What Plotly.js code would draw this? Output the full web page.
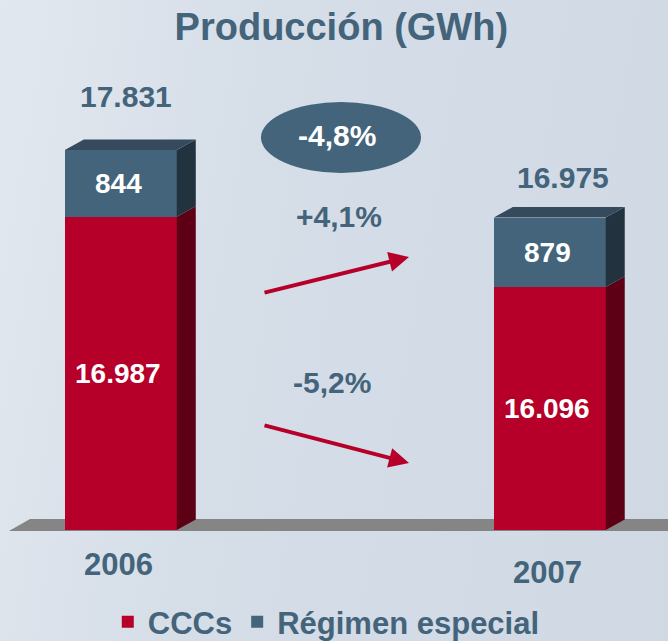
<!DOCTYPE html>
<html>
<head>
<meta charset="utf-8">
<script src="https://cdn.plot.ly/plotly-3.0.1.min.js"></script>
<style>
html,body{margin:0;padding:0;}
body{width:668px;height:641px;overflow:hidden;
background:linear-gradient(100deg,#e2e8ef 0%,#d6dee8 35%,#d2dbe6 70%,#cfd8e3 100%);}
#chart{width:668px;height:641px;}
</style>
</head>
<body>
<div id="chart"></div>
<script>
// ---- data ----
const categories = ['2006', '2007'];
const ccc = [16987, 16096];            // CCCs
const regimen = [844, 879];            // Régimen especial
const totals = [17831, 16975];
const seriesNames = ['CCCs', 'Régimen especial'];
const changeTotal = '-4,8%';
const changeRegimen = '+4,1%';
const changeCCC = '-5,2%';

// ---- style ----
const RED = '#b60029', RED_SIDE = '#5d0016';
const BLUE = '#43647a', BLUE_SIDE = '#22323f', BLUE_TOP = '#354b5d';
const SLATE = '#43647a';
const FONT = 'Liberation Sans, Arial, sans-serif';
const BASE = 13020, YTOP = 18970;
const W = 0.261, DX = 0.0443, DY = 133;

function fmt(v){ return String(v).replace(/\B(?=(\d{3})+(?!\d))/g, '.'); }

const xs = categories.map((c, i) => i);

const traces = [
  {type:'bar', x:xs, y:ccc, name:seriesNames[0], width:W,
   marker:{color:RED}, hoverinfo:'none'},
  {type:'bar', x:xs, y:regimen, name:seriesNames[1], width:W,
   marker:{color:BLUE}, hoverinfo:'none'}
];

const shapes = [];
// floor slab (paper coords)
shapes.push({type:'path', xref:'paper', yref:'paper', layer:'below',
  path:'M-0.042,-0.0021 L-0.008,0.0234 L1.03,0.0234 L1.03,-0.0021 Z',
  fillcolor:'#858585', line:{width:0}});
// 3D faces computed from the data
xs.forEach((x, i) => {
  const xl = x - W/2, xr = x + W/2;
  const c = ccc[i], t = ccc[i] + regimen[i];
  shapes.push({type:'path', xref:'x', yref:'y', layer:'above', line:{width:0}, fillcolor:RED_SIDE,
    path:`M${xr},${BASE} L${xr+DX},${BASE+DY} L${xr+DX},${c+DY} L${xr},${c} Z`});
  shapes.push({type:'path', xref:'x', yref:'y', layer:'above', line:{width:0}, fillcolor:BLUE_SIDE,
    path:`M${xr},${c} L${xr+DX},${c+DY} L${xr+DX},${t+DY} L${xr},${t} Z`});
  shapes.push({type:'path', xref:'x', yref:'y', layer:'above', line:{width:0}, fillcolor:BLUE_TOP,
    path:`M${xl},${t} L${xl+DX},${t+DY} L${xr+DX},${t+DY} L${xr},${t} Z`});
});
// ellipse behind total change
shapes.push({type:'circle', xref:'paper', yref:'paper', layer:'above',
  x0:0.3633, x1:0.6206, y0:0.7596, y1:0.9106, fillcolor:SLATE, line:{width:0}});

const ann = [];
const totShiftY = [53, 40], totShiftX = [5, 13], yearShift = [-34, -42];
xs.forEach((x, i) => {
  const t = ccc[i] + regimen[i];
  ann.push({x:x, y:totals[i], xref:'x', yref:'y', text:fmt(totals[i]), showarrow:false,
    xanchor:'center', yanchor:'middle',
    xshift:totShiftX[i], yshift:totShiftY[i], font:{family:FONT, size:30, color:SLATE, weight:'bold'}});
  ann.push({x:x, y:(ccc[i]+t)/2, xref:'x', yref:'y', text:fmt(regimen[i]), showarrow:false,
    xanchor:'center', yanchor:'middle',
    xshift:-2, font:{family:FONT, size:28, color:'#ffffff', weight:'bold'}});
  ann.push({x:x, y:(Math.max(BASE,0)+ccc[i])/2, xref:'x', yref:'y', text:fmt(ccc[i]), showarrow:false,
    xanchor:'center', yanchor:'middle',
    xshift:-3, font:{family:FONT, size:28, color:'#ffffff', weight:'bold'}});
  ann.push({x:x, y:BASE, xref:'x', yref:'y', text:categories[i], showarrow:false,
    xanchor:'center', yanchor:'middle',
    xshift:-2, yshift:yearShift[i], font:{family:FONT, size:31, color:SLATE, weight:'bold'}});
});
ann.push({x:0.4855, y:0.8404, xref:'paper', yref:'paper', text:changeTotal, showarrow:false,
  xanchor:'center', yanchor:'middle',
  font:{family:FONT, size:30, color:'#ffffff', weight:'bold'}});
ann.push({x:0.4887, y:0.668, xref:'paper', yref:'paper', text:changeRegimen, showarrow:false,
  xanchor:'center', yanchor:'middle',
  font:{family:FONT, size:30, color:SLATE, weight:'bold'}});
ann.push({x:0.4767, y:0.3138, xref:'paper', yref:'paper', text:changeCCC, showarrow:false,
  xanchor:'center', yanchor:'middle',
  font:{family:FONT, size:30, color:SLATE, weight:'bold'}});
// arrows
ann.push({x:0.6013, y:0.5809, xref:'paper', yref:'paper', text:'', showarrow:true,
  ax:-146, ay:36, arrowhead:2, arrowsize:1, arrowwidth:4, arrowcolor:RED, standoff:0});
ann.push({x:0.6013, y:0.1426, xref:'paper', yref:'paper', text:'', showarrow:true,
  ax:-146, ay:-38, arrowhead:2, arrowsize:1, arrowwidth:4, arrowcolor:RED, standoff:0});

const layout = {
  width:668, height:641,
  margin:{l:35, r:11, t:60, b:111, autoexpand:false},
  paper_bgcolor:'rgba(0,0,0,0)', plot_bgcolor:'rgba(0,0,0,0)',
  barmode:'stack', bargap:0,
  title:{text:'Producción (GWh)', x:0.511, y:0.958, xanchor:'center', yanchor:'middle',
    font:{family:FONT, size:38, color:SLATE, weight:'bold'}},
  xaxis:{range:[-0.2, 1.25], showgrid:false, zeroline:false, showticklabels:false, showline:false, ticks:''},
  yaxis:{range:[BASE, YTOP], showgrid:false, zeroline:false, showticklabels:false, showline:false, ticks:''},
  showlegend:true,
  legend:{orientation:'h', x:0.117, xanchor:'left', y:-0.196, yanchor:'middle', traceorder:'normal',
    bgcolor:'rgba(0,0,0,0)', font:{family:FONT, size:31, color:SLATE, weight:'bold'}, itemwidth:30},
  shapes:shapes,
  annotations:ann
};

Plotly.newPlot('chart', traces, layout, {displayModeBar:false, staticPlot:true});
</script>
</body>
</html>
